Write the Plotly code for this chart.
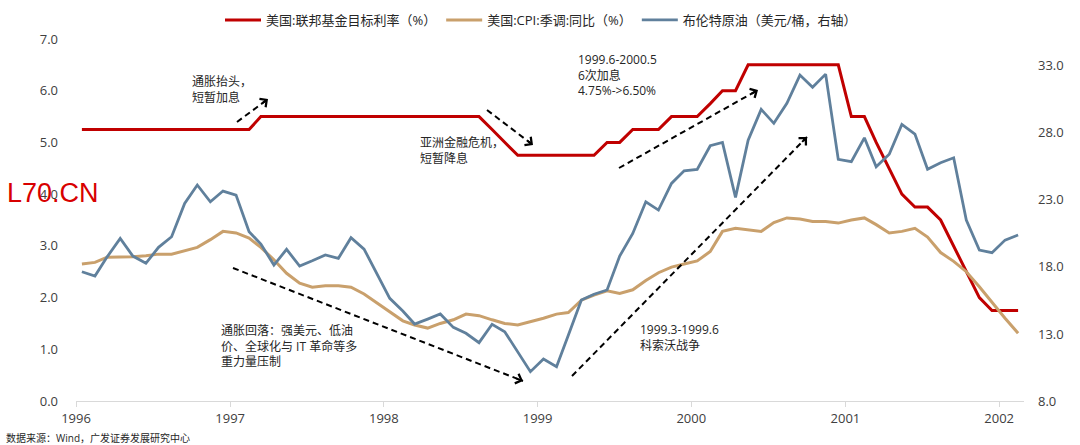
import plotly.graph_objects as go

# ---------------- data (monthly, Jan 1996 - Feb 2002) ----------------
months = [f"{1996 + i // 12}-{i % 12 + 1:02d}-15" for i in range(74)]

fed_rate = [
    5.25, 5.25, 5.25, 5.25, 5.25, 5.25, 5.25, 5.25, 5.25, 5.25, 5.25, 5.25,
    5.25, 5.25, 5.50, 5.50, 5.50, 5.50, 5.50, 5.50, 5.50, 5.50, 5.50, 5.50,
    5.50, 5.50, 5.50, 5.50, 5.50, 5.50, 5.50, 5.50, 5.25, 5.00, 4.75, 4.75,
    4.75, 4.75, 4.75, 4.75, 4.75, 5.00, 5.00, 5.25, 5.25, 5.25, 5.50, 5.50,
    5.50, 5.75, 6.00, 6.00, 6.50, 6.50, 6.50, 6.50, 6.50, 6.50, 6.50, 6.50,
    5.50, 5.50, 5.00, 4.50, 4.00, 3.75, 3.75, 3.50, 3.00, 2.50, 2.00, 1.75,
    1.75, 1.75,
]

cpi_yoy = [
    2.65, 2.68, 2.78, 2.78, 2.79, 2.81, 2.84, 2.84, 2.90, 2.97, 3.12, 3.28,
    3.25, 3.15, 2.97, 2.73, 2.47, 2.28, 2.20, 2.23, 2.23, 2.20, 2.07, 1.90,
    1.73, 1.55, 1.47, 1.41, 1.50, 1.57, 1.68, 1.65, 1.57, 1.50, 1.47, 1.53,
    1.60, 1.68, 1.71, 1.95, 2.05, 2.13, 2.08, 2.15, 2.33, 2.48, 2.59, 2.65,
    2.71, 2.89, 3.28, 3.34, 3.31, 3.28, 3.45, 3.54, 3.52, 3.47, 3.47, 3.44,
    3.50, 3.54, 3.41, 3.25, 3.28, 3.34, 3.17, 2.87, 2.70, 2.50, 2.21, 1.90,
    1.60, 1.31,
]

brent = [
    17.64, 17.32, 18.75, 20.13, 18.81, 18.27, 19.46, 20.25, 22.74, 24.11, 22.86, 23.66,
    23.36, 20.62, 19.71, 18.14, 19.31, 18.07, 18.46, 18.89, 18.64, 20.18, 19.33, 17.52,
    15.66, 14.71, 13.74, 14.11, 14.49, 13.49, 13.05, 12.35, 13.72, 13.17, 11.65, 10.19,
    11.13, 10.56, 12.90, 15.53, 15.96, 16.28, 18.81, 20.50, 22.86, 22.24, 24.23, 25.17,
    25.28, 27.04, 27.29, 23.19, 27.46, 29.75, 28.71, 30.20, 32.31, 31.40, 32.38, 26.02,
    25.85, 27.63, 25.47, 26.40, 28.63, 27.91, 25.28, 25.77, 26.14, 21.50, 19.26, 19.06,
    20.00, 20.38,
]

year_ticks = ["1996", "1997", "1998", "1999", "2000", "2001", "2002"]

names = ["美国:联邦基金目标利率（%）", "美国:CPI:季调:同比（%）", "布伦特原油（美元/桶，右轴）"]
colors = ["#C00000", "#C9A06C", "#60809C"]

# ---------------- layout geometry (pixels) ----------------
W, H = 1080, 445
PL, PR, PT, PB = 76, 1024, 39, 401


def px2paper(x, y):
    return (x - PL) / (PR - PL), (PB - y) / (PB - PT)


FONT = "Open Sans, Noto Sans CJK SC, sans-serif"
TXT = "#262626"

fig = go.Figure()
fig.add_trace(go.Scatter(x=months, y=fed_rate, name=names[0], mode="lines",
                         line=dict(color=colors[0], width=3)))
fig.add_trace(go.Scatter(x=months, y=cpi_yoy, name=names[1], mode="lines",
                         line=dict(color=colors[1], width=3)))
fig.add_trace(go.Scatter(x=months, y=brent, name=names[2], mode="lines", yaxis="y2",
                         line=dict(color=colors[2], width=2.8)))

# ---------------- annotations ----------------
texts = [
    ("通胀抬头，<br>短暂加息", 190, 89),
    ("亚洲金融危机，<br>短暂降息", 418, 150),
    ("1999.6-2000.5<br>6次加息<br>4.75%->6.50%", 576, 75),
    ("1999.3-1999.6<br>科索沃战争", 638, 337),
    ("通胀回落：强美元、低油<br>价、全球化与 IT 革命等多<br>重力量压制", 219, 346),
]
arrows = [
    ((237, 122), (268, 99)),
    ((487, 110), (533, 145)),
    ((619, 168), (758, 90)),
    ((572, 376), (807, 137)),
    ((233, 268), (523, 381)),
]

annotations = []
shapes = []
for t, x, y in texts:
    px, py = px2paper(x, y)
    annotations.append(dict(text=t, x=px, y=py, xref="paper", yref="paper",
                            xanchor="left", yanchor="middle", align="left",
                            showarrow=False, font=dict(family=FONT, size=12, color=TXT)))

for (sx, sy), (ex, ey) in arrows:
    x0, y0 = px2paper(sx, sy)
    x1, y1 = px2paper(ex, ey)
    shapes.append(dict(type="line", xref="paper", yref="paper", x0=x0, y0=y0, x1=x1, y1=y1,
                       line=dict(color="black", width=2, dash="6px,4px")))
    L = ((sx - ex) ** 2 + (sy - ey) ** 2) ** 0.5
    annotations.append(dict(text="", x=x1, y=y1, xref="paper", yref="paper",
                            ax=(sx - ex) / L * 9, ay=(sy - ey) / L * 9,
                            showarrow=True, arrowhead=4, arrowsize=1, arrowwidth=2,
                            arrowcolor="black", standoff=0))

# source note
sx_, sy_ = px2paper(4, 438)
annotations.append(dict(text="数据来源：Wind，广发证券发展研究中心", x=sx_, y=sy_,
                        xref="paper", yref="paper", xanchor="left", yanchor="middle",
                        showarrow=False, font=dict(family=FONT, size=10, color=TXT)))
# red watermark
wx, wy = px2paper(5, 193)
annotations.append(dict(text="L70.CN", x=wx, y=wy, xref="paper", yref="paper",
                        xanchor="left", yanchor="middle", showarrow=False,
                        font=dict(family="Liberation Sans, Arial", size=27, color="#D80000")))

lx, ly = px2paper(220, 20)

fig.update_layout(
    width=W, height=H,
    margin=dict(l=PL, r=W - PR, t=PT, b=H - PB, autoexpand=False),
    paper_bgcolor="white", plot_bgcolor="white",
    font=dict(family=FONT, size=13, color="#404040"),
    showlegend=True,
    legend=dict(orientation="h", x=lx, y=ly, xanchor="left", yanchor="middle",
                font=dict(family=FONT, size=13, color=TXT), bgcolor="rgba(0,0,0,0)",
                traceorder="normal", itemwidth=36),
    xaxis=dict(type="date", range=["1996-01-01", "2002-03-01"],
               tickvals=[f"{y}-01-01" for y in year_ticks], ticktext=year_ticks,
               showgrid=False, zeroline=False, showline=True, linecolor="#D9D9D9",
               linewidth=1, ticks="outside", ticklen=5, tickcolor="#D9D9D9",
               tickfont=dict(size=13, color="#404040")),
    yaxis=dict(range=[0, 7], dtick=1, tick0=0, tickformat=".1f", showgrid=False,
               zeroline=False, showline=False, ticks="", ticklabelstandoff=17,
               tickfont=dict(size=13, color="#404040")),
    yaxis2=dict(range=[8, 35], dtick=5, tick0=8, tickformat=".1f", overlaying="y",
                side="right", showgrid=False, zeroline=False, showline=False, ticks="",
                ticklabelstandoff=13, tickfont=dict(size=13, color="#404040")),
    annotations=annotations,
    shapes=shapes,
)

fig.write_html("out.html", config={"displayModeBar": False},
               post_script="document.body.style.margin='0px';document.body.style.overflow='hidden';")
